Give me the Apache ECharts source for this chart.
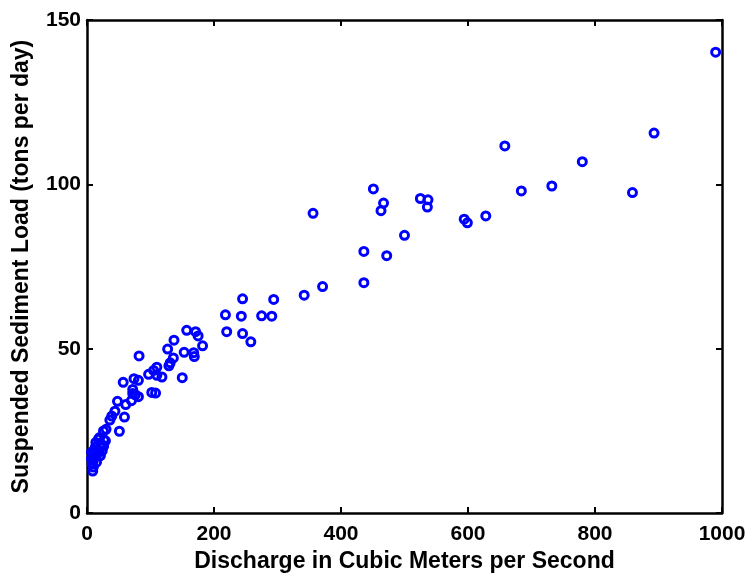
<!DOCTYPE html>
<html>
<head>
<meta charset="utf-8">
<script src="https://cdn.jsdelivr.net/npm/echarts@6/dist/echarts.min.js"></script>
<style>html,body{margin:0;padding:0;background:#fff;}#c{width:750px;height:578px;}</style>
</head>
<body>
<div id="c"></div>
<script>
var xTicks = [0, 200, 400, 600, 800, 1000];
var yTicks = [0, 50, 100, 150];
var discharge = [
  990, 893, 658, 780, 732, 684, 859, 525, 537, 536, 594, 599, 628, 500,
  451, 467, 463, 356, 436, 472, 436, 371, 342, 245, 294, 218, 243, 275, 291, 220, 245, 258,
  157, 171, 175, 182, 137, 127, 82, 153, 168, 169, 136, 131, 129, 110, 105, 97, 118, 110, 150,
  102, 108, 74, 81, 57, 72, 72, 81, 70, 76, 61, 48, 44, 39, 59, 36, 51, 30, 26, 18, 27, 26,
  13, 18, 20.5, 7, 7, 15, 9, 10, 12, 16, 10, 22, 14, 20, 8, 24, 29, 11, 21, 26
];
var sediment = [
  140.2, 115.6, 111.7, 106.9, 99.5, 98.0, 97.5, 95.7, 95.3, 93.1, 89.4, 88.3, 90.4, 84.5,
  98.6, 94.3, 92.0, 91.2, 79.6, 78.3, 70.1, 68.9, 66.3, 65.2, 65.0, 60.3, 59.9, 60.0, 59.9, 55.2, 54.6, 52.1,
  55.6, 55.2, 53.9, 50.9, 52.6, 49.9, 47.8, 48.9, 48.8, 47.6, 47.2, 45.7, 44.8, 44.4, 43.4, 42.2, 41.4, 41.9, 41.2,
  36.7, 36.5, 40.9, 40.4, 39.8, 37.6, 36.4, 35.4, 34.2, 36.0, 33.0, 34.0, 31.0, 29.5, 29.2, 28.3, 24.9, 25.5, 25.0, 22.5, 22.3, 20.3,
  20.0, 19.0, 17.5, 18.5, 16.5, 15.5, 12.8, 14.0, 17.5, 18.0, 16.0, 21.0, 21.5, 23.0, 15.0, 19.0, 22.0, 19.0, 17.5, 20.5
];
var points = discharge.map(function (d, i) { return [d, sediment[i]]; });

var font = '"Liberation Sans", Arial, Helvetica, sans-serif';
var lineStyle = { color: '#000', width: 2.5 };
function axisBase(extra) {
  var a = {
    type: 'value',
    axisLine: { show: true, onZero: false, lineStyle: lineStyle },
    axisTick: { show: true, inside: true, length: 6, lineStyle: { color: '#000', width: 2 } },
    splitLine: { show: false },
    axisLabel: { show: false }
  };
  for (var k in extra) a[k] = extra[k];
  return a;
}
function plain(v) { return String(v); }

var chart = echarts.init(document.getElementById('c'), null, { renderer: 'canvas' });
chart.setOption({
  animation: false,
  backgroundColor: '#fff',
  grid: { left: 87, right: 28, top: 20, bottom: 56, containLabel: false },
  xAxis: [
    axisBase({
      position: 'bottom', min: xTicks[0], max: xTicks[xTicks.length - 1], interval: 200,
      axisLabel: { show: true, margin: 11, formatter: plain, color: '#000', fontFamily: font, fontWeight: 'bold', fontSize: 21 },
      name: 'Discharge in Cubic Meters per Second', nameLocation: 'middle', nameGap: 32,
      nameTextStyle: { color: '#000', fontFamily: font, fontWeight: 'bold', fontSize: 23 }
    }),
    axisBase({ position: 'top', min: xTicks[0], max: xTicks[xTicks.length - 1], interval: 200 })
  ],
  yAxis: [
    axisBase({
      position: 'left', min: yTicks[0], max: yTicks[yTicks.length - 1], interval: 50,
      axisLabel: { show: true, margin: 6, formatter: plain, color: '#000', fontFamily: font, fontWeight: 'bold', fontSize: 21 },
      name: 'Suspended Sediment Load (tons per day)', nameLocation: 'middle', nameGap: 54,
      nameTextStyle: { color: '#000', fontFamily: font, fontWeight: 'bold', fontSize: 23 }
    }),
    axisBase({ position: 'right', min: yTicks[0], max: yTicks[yTicks.length - 1], interval: 50 })
  ],
  series: [{
    type: 'scatter',
    xAxisIndex: 0,
    yAxisIndex: 0,
    data: points,
    symbol: 'circle',
    symbolSize: 8,
    itemStyle: { color: 'rgba(0,0,0,0)', borderColor: '#0000ff', borderWidth: 3, opacity: 1 },
    emphasis: { disabled: true }
  }]
});
</script>
</body>
</html>
